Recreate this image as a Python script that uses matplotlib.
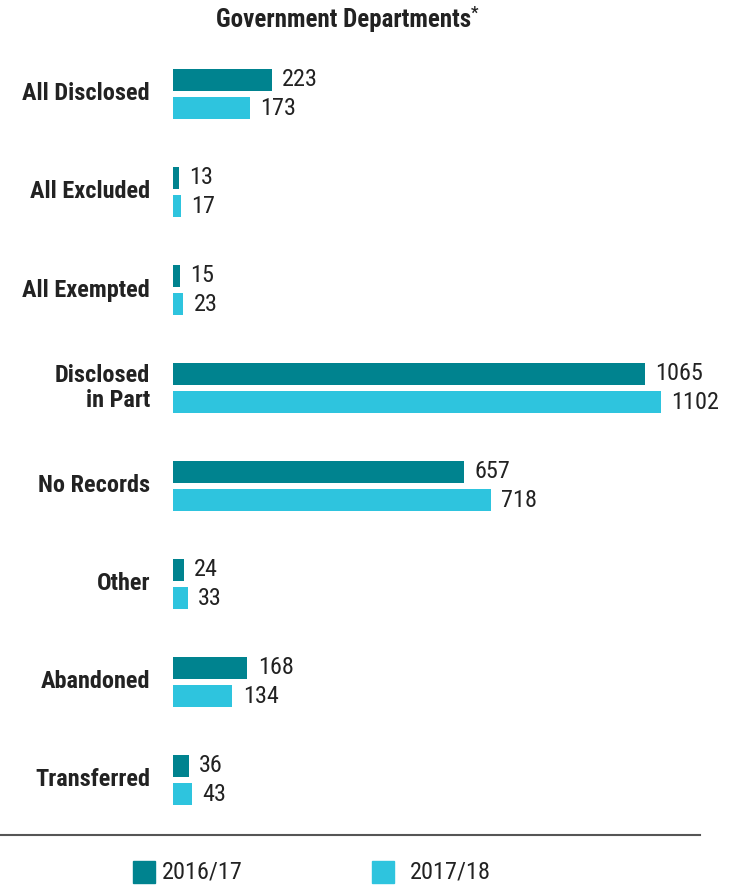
import matplotlib
matplotlib.use("Agg")
import matplotlib.pyplot as plt
from matplotlib import font_manager as fm
from matplotlib.patches import Rectangle
from matplotlib.lines import Line2D

categories = ["All Disclosed", "All Excluded", "All Exempted", "Disclosed\nin Part",
              "No Records", "Other", "Abandoned", "Transferred"]
v2016 = [223, 13, 15, 1065, 657, 24, 168, 36]
v2017 = [173, 17, 23, 1102, 718, 33, 134, 43]
series_labels = ["2016/17", "2017/18"]
title = "Government Departments"

c1 = "#00838f"
c2 = "#2ec4de"
txt = "#222222"

names = {f.name for f in fm.fontManager.ttflist}
fam = "Roboto"
for cand in ["Roboto Condensed", "Liberation Sans Narrow", "Roboto"]:
    if cand in names:
        fam = cand
        break
plt.rcParams['font.family'] = [fam, 'DejaVu Sans']

W, H = 738, 885
fig = plt.figure(figsize=(W/100, H/100), dpi=100)
left = 173 / W
width = 530 / W
top = 45
bottom = 829
ax = fig.add_axes([left, 1 - bottom / H, width, (bottom - top) / H])

n = len(categories)
ys = list(range(n))
off = 0.143
h = 0.23
ax.barh([y - off for y in ys], v2016, height=h, color=c1, align='center')
ax.barh([y + off for y in ys], v2017, height=h, color=c2, align='center')
ax.set_xlim(0, 530 / 0.4428)
ax.set_ylim(n - 0.5, -0.5)
ax.axis('off')

for y, a, b in zip(ys, v2016, v2017):
    ax.annotate(str(a), (a, y - off), xytext=(7.5, 0), textcoords='offset points',
                va='center', ha='left', fontsize=17.5, color=txt)
    ax.annotate(str(b), (b, y + off), xytext=(7.5, 0), textcoords='offset points',
                va='center', ha='left', fontsize=17.5, color=txt)
    cat = categories[y]
    ax.annotate(cat, (0, y), xytext=(-16.5, 0), textcoords='offset points',
                va='center', ha='right', fontsize=17.5, fontweight='bold', color=txt,
                linespacing=1.15)

fig.text(344 / W, 1 - 20 / H, title, ha='center', va='center',
         fontsize=18, fontweight='bold', color=txt)
fig.text(471 / W, 1 - 13 / H, "*", ha='left', va='center', fontsize=12,
         fontweight='bold', color=txt)

fig.add_artist(Line2D([0, 700 / W], [1 - 835 / H, 1 - 835 / H], color="#555555",
                      linewidth=1.5, transform=fig.transFigure))

for x0, col, lab, tx in [(133, c1, series_labels[0], 162), (372, c2, series_labels[1], 410)]:
    fig.add_artist(Rectangle((x0 / W, 1 - 883 / H), 22 / W, 22 / H, color=col,
                             transform=fig.transFigure))
    fig.text(tx / W, 1 - 872 / H, lab, ha='left', va='center', fontsize=17.5, color=txt)

fig.savefig("out.png", dpi=100)
